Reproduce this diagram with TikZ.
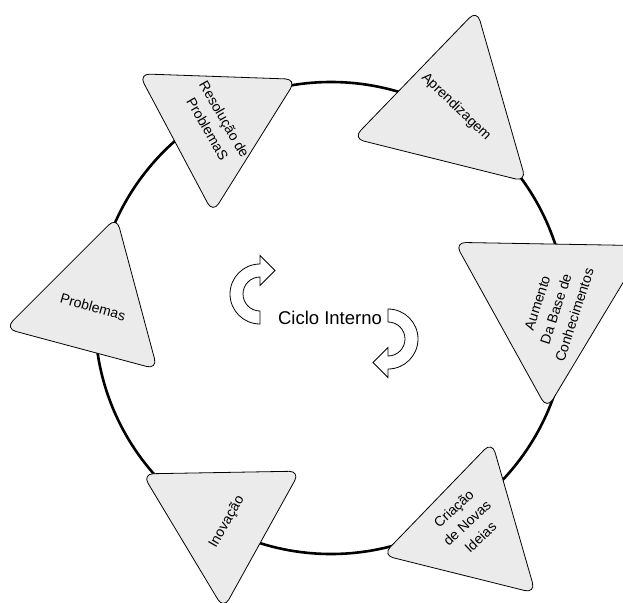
\documentclass[tikz,border=0pt]{standalone}
\usepackage{fontspec}
\setmainfont{Liberation Sans}
\usetikzlibrary{shapes.geometric}
\definecolor{triFill}{RGB}{235,235,235}
\begin{document}
\begin{tikzpicture}[x=1pt,y=-1pt,
  tri/.style={regular polygon, regular polygon sides=3, draw=black, line width=0.8pt,
    fill=triFill, rounded corners=11pt, inner sep=0pt, minimum size=#1},
  tri/.default=182pt,
  lbl/.style={font=\fontsize{14}{19.5}\selectfont, align=center, inner sep=0pt},
  ring/.style={line width=2.6pt},
  turn/.style={draw=black, line width=0.8pt, fill=white}]
\useasboundingbox (0,0) rectangle (623,602);
\clip (0,0) rectangle (623,602);

% outer cycle
\draw[ring] (331,318) circle[radius=236];

% stages of the cycle
\node[tri, rotate=-15] (prob) at (93,305) {};
\node[lbl, rotate=-16] (probT) at (93,307) {Problemas};

\node[tri, rotate=-62] (reso) at (216,122) {};
\node[lbl, rotate=-60] (resoT) at (216,124) {Resolução de\\ProblemaS};

\node[tri=206pt, rotate=-14] (apre) at (452,110) {};
\node[lbl, rotate=-44] (apreT) at (456,107) {Aprendizagem};

\node[tri=220pt, rotate=59] (aume) at (549,299) {};
\node[lbl, rotate=72] (aumeT) at (556,309) {Aumento\\Da Base de\\Conhecimentos};

\node[tri, rotate=-14] (cria) at (470,530) {};
\node[lbl, rotate=43] (criaT) at (467,523) {Criação\\de Novas\\Ideias};

\node[tri, rotate=61] (inov) at (222,518) {};
\node[lbl, rotate=60] (inovT) at (227,522) {Inovação};

% centre label
\node[font=\fontsize{18.5}{22}\selectfont, inner sep=0pt] (ciclo) at (330,318) {Ciclo Interno};

% curved turn arrows
\begin{scope}[shift={(260,294)}]
  \draw[turn] (0,30) arc[start angle=90, end angle=270, radius=30]
    -- (0,-38.5) -- (15,-23.5) -- (0,-8.5) -- (0,-17)
    arc[start angle=270, end angle=90, radius=17] -- cycle;
\end{scope}
\begin{scope}[shift={(388,339)}, rotate=180]
  \draw[turn] (0,30) arc[start angle=90, end angle=270, radius=30]
    -- (0,-38.5) -- (15,-23.5) -- (0,-8.5) -- (0,-17)
    arc[start angle=270, end angle=90, radius=17] -- cycle;
\end{scope}
\end{tikzpicture}
\end{document}
